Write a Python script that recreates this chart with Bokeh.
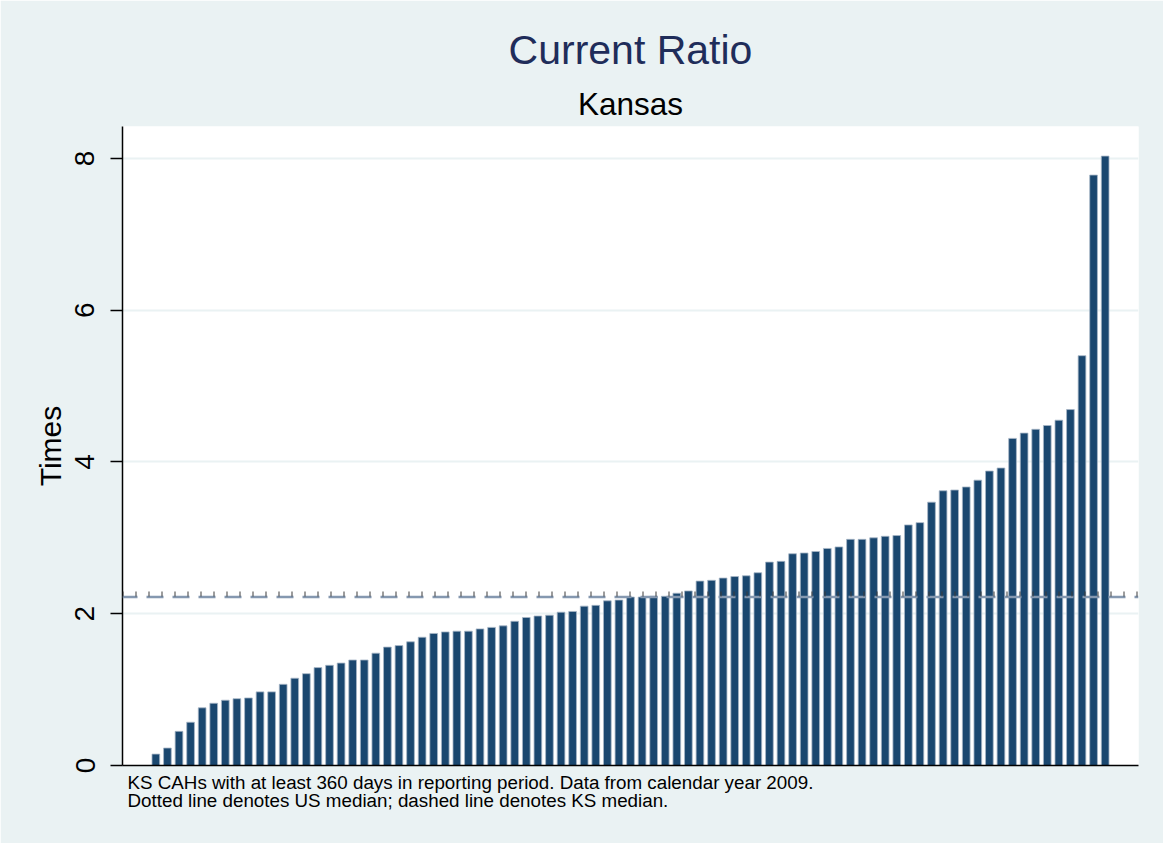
from bokeh.plotting import figure
from bokeh.models import Range1d, FixedTicker, Span, Title, ColumnDataSource
from bokeh.embed import file_html
from bokeh.resources import INLINE

# ---- data ----
values = [0.15, 0.23, 0.45, 0.57, 0.76, 0.82, 0.86, 0.88, 0.89, 0.97,
          0.97, 1.07, 1.15, 1.21, 1.29, 1.32, 1.35, 1.39, 1.39, 1.48,
          1.56, 1.58, 1.63, 1.69, 1.74, 1.76, 1.77, 1.77, 1.80, 1.82,
          1.84, 1.90, 1.95, 1.97, 1.98, 2.02, 2.03, 2.10, 2.11, 2.17,
          2.18, 2.22, 2.22, 2.23, 2.23, 2.27, 2.30, 2.43, 2.44, 2.47,
          2.49, 2.50, 2.54, 2.68, 2.69, 2.79, 2.80, 2.82, 2.86, 2.88,
          2.98, 2.98, 3.00, 3.02, 3.03, 3.17, 3.20, 3.47, 3.62, 3.63,
          3.67, 3.76, 3.88, 3.92, 4.31, 4.38, 4.43, 4.48, 4.55, 4.69,
          5.40, 7.78, 8.03]
hospital = list(range(len(values)))
us_median = 2.26
ks_median = 2.22
y_ticks = [0, 2, 4, 6, 8]
title_text = "Current Ratio"
subtitle_text = "Kansas"
y_label = "Times"
note_text = ("KS CAHs with at least 360 days in reporting period. Data from calendar year 2009.\n"
             "Dotted line denotes US median; dashed line denotes KS median.")

FONT = "Liberation Sans"
BG = "#EAF2F3"
NAVY = "#1a476f"

p = figure(frame_width=1016, frame_height=639,
           x_range=Range1d(-2.88, 84.88), y_range=Range1d(0, 8.42),
           output_backend="svg", toolbar_location=None,
           min_border_left=122, min_border_right=25,
           min_border_top=126, min_border_bottom=78,
           border_fill_color=BG, background_fill_color="white",
           outline_line_color=None, title=None)

src = ColumnDataSource(dict(x=hospital, top=values))
p.vbar(x="x", top="top", width=0.665, bottom=0, source=src,
       fill_color=NAVY, line_color="#a7b6c6", line_width=0.8)

# median lines
p.add_layout(Span(location=ks_median, dimension="width", line_color="#8598b0",
                  line_width=2.5, line_dash="17 9", line_dash_offset=2))
p.add_layout(Span(location=us_median, dimension="width", line_color="#3a3a3a",
                  line_width=5, line_dash="1 12"))

# titles
sub = Title(text=subtitle_text, align="center", text_font=FONT, text_font_size="31.5px",
            text_font_style="normal", text_color="black", standoff=9)
p.add_layout(sub, "above")
ttl = Title(text=title_text, align="center", text_font=FONT, text_font_size="41px",
            text_font_style="normal", text_color="#1f2d5a", standoff=13)
p.add_layout(ttl, "above")

note = Title(text=note_text, align="left", text_font=FONT, text_font_size="18.8px",
             text_font_style="normal", text_color="black", offset=5, standoff=10,
             text_line_height=0.88)
p.add_layout(note, "below")

# grid
p.xgrid.visible = False
p.ygrid.ticker = FixedTicker(ticks=y_ticks)
p.ygrid.grid_line_color = BG
p.ygrid.grid_line_width = 2

# y axis
ya = p.yaxis[0]
ya.ticker = FixedTicker(ticks=y_ticks)
ya.axis_label = y_label
ya.axis_label_text_font = FONT
ya.axis_label_text_font_size = "30px"
ya.axis_label_text_font_style = "normal"
ya.axis_label_text_color = "black"
ya.axis_label_standoff = 6
ya.major_label_orientation = "vertical"
ya.major_label_text_font = FONT
ya.major_label_text_font_size = "28px"
ya.major_label_text_color = "black"
ya.major_label_standoff = 16
ya.major_tick_out = 12
ya.major_tick_in = 0
ya.minor_tick_line_color = None
ya.major_tick_line_color = "black"
ya.major_tick_line_width = 1.5
ya.axis_line_color = "black"
ya.axis_line_width = 1.5

# x axis: line only
xa = p.xaxis[0]
xa.ticker = FixedTicker(ticks=[])
xa.major_tick_line_color = None
xa.minor_tick_line_color = None
xa.major_tick_out = 0
xa.major_label_text_font_size = "1px"
xa.major_label_standoff = 0
xa.axis_line_color = "black"
xa.axis_line_width = 1.5

open("out.html", "w").write(file_html(p, INLINE))
